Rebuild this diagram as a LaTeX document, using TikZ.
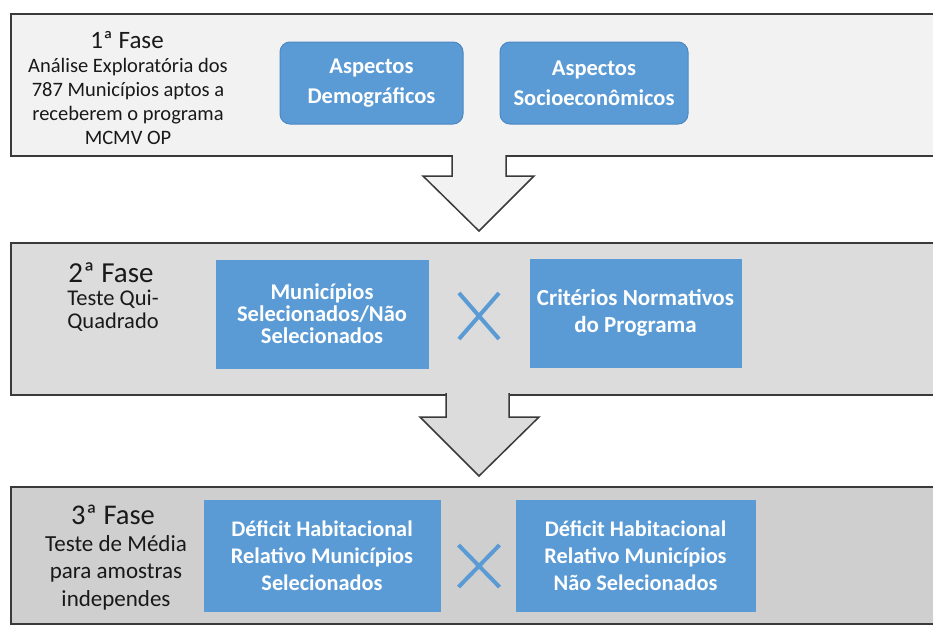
\documentclass[tikz,border=0pt]{standalone}
\usepackage{fontspec}
\setmainfont{Carlito}
\usetikzlibrary{shapes.misc}
\definecolor{boxblue}{HTML}{5B9BD5}
\definecolor{boxedge}{HTML}{4E88C2}
\definecolor{paneledge}{HTML}{3A3A3A}
\definecolor{fillA}{HTML}{F2F2F2}
\definecolor{fillB}{HTML}{DCDCDC}
\definecolor{fillC}{HTML}{CFCFCF}
\begin{document}
\begin{tikzpicture}[x=1pt,y=-1pt,
  panel/.style={draw=paneledge, line width=1.5pt, anchor=north west, inner sep=0pt},
  roundbox/.style={draw=boxedge, line width=1pt, fill=boxblue, rounded corners=10pt,
    text=white, align=center, font=\bfseries\fontsize{22.5}{30}\selectfont, inner sep=0pt},
  flatbox/.style={draw=boxblue, fill=boxblue, text=white, align=center, inner sep=0pt},
  phase/.style={text=black!90},
  desc/.style={align=center, text=black!90},
  cross/.style={cross out, draw=boxblue, line width=4pt, inner sep=0pt},
  arrowline/.style={draw=paneledge, line width=1.5pt, line join=miter}]
\clip (0,0) rectangle (933,624);
\fill[white] (0,0) rectangle (933,624);

% ---- phase 1 ----
\node[panel, fill=fillA, minimum width=940pt, minimum height=142pt] (p1) at (10,13) {};
\node[phase, font=\fontsize{25}{28}\selectfont] (t1) at (127,40) {1ª Fase};
\node[desc, font=\fontsize{20.5}{24}\selectfont] (d1) at (128,101)
  {Análise Exploratória dos\\787 Municípios aptos a\\receberem  o programa\\MCMV OP};
\node[roundbox, minimum width=183pt, minimum height=82pt] (b11) at (371.5,83)
  {Aspectos\\Demográficos};
\node[roundbox, minimum width=188pt, minimum height=82pt] (b12) at (594,83)
  {Aspectos\\Socioeconômicos};

% block arrow from phase 1 down to phase 2
\fill[fillA] (452,150) -- (452,176) -- (423,176) -- (479,231) -- (534,176) -- (506,176) -- (506,150) -- cycle;
\draw[arrowline] (452,155) -- (452,176) -- (423,176) -- (479,231) -- (534,176) -- (506,176) -- (506,155);

% ---- phase 2 ----
\node[panel, fill=fillB, minimum width=940pt, minimum height=152pt] (p2) at (10,242) {};
\node[phase, font=\fontsize{29}{32}\selectfont] (t2) at (111,273) {2ª Fase};
\node[desc, font=\fontsize{22.5}{23}\selectfont] (d2) at (113,311) {Teste Qui-\\Quadrado};
\node[flatbox, minimum width=212pt, minimum height=108pt,
  font=\bfseries\fontsize{22.5}{22}\selectfont] (b21) at (322,314)
  {Municípios\\Selecionados/Não\\Selecionados};
\node[cross, minimum width=36pt, minimum height=42pt] (x2) at (479,316) {};
\node[flatbox, minimum width=211pt, minimum height=108pt,
  font=\bfseries\fontsize{23}{27}\selectfont] (b22) at (635.5,313)
  {Critérios Normativos\\do Programa};

% block arrow from phase 2 down to phase 3
\fill[fillB] (446,388) -- (446,417) -- (420,417) -- (479,476) -- (539,417) -- (509,417) -- (509,388) -- cycle;
\draw[arrowline] (446,393) -- (446,417) -- (420,417) -- (479,476) -- (539,417) -- (509,417) -- (509,393);

% ---- phase 3 ----
\node[panel, fill=fillC, minimum width=940pt, minimum height=137pt] (p3) at (10,486) {};
\node[phase, font=\fontsize{28.5}{32}\selectfont] (t3) at (113,515) {3ª Fase};
\node[desc, font=\fontsize{23}{27.5}\selectfont] (d3) at (116,572.5)
  {Teste de Média\\para amostras\\independes};
\node[flatbox, minimum width=236pt, minimum height=111pt,
  font=\bfseries\fontsize{22.3}{27}\selectfont] (b31) at (322,555.5)
  {Déficit Habitacional\\Relativo Municípios\\Selecionados};
\node[cross, minimum width=37pt, minimum height=38pt] (x3) at (479,566) {};
\node[flatbox, minimum width=239pt, minimum height=111pt,
  font=\bfseries\fontsize{22.3}{27}\selectfont] (b32) at (635.5,555.5)
  {Déficit Habitacional\\Relativo Municípios\\Não Selecionados};
\end{tikzpicture}
\end{document}
